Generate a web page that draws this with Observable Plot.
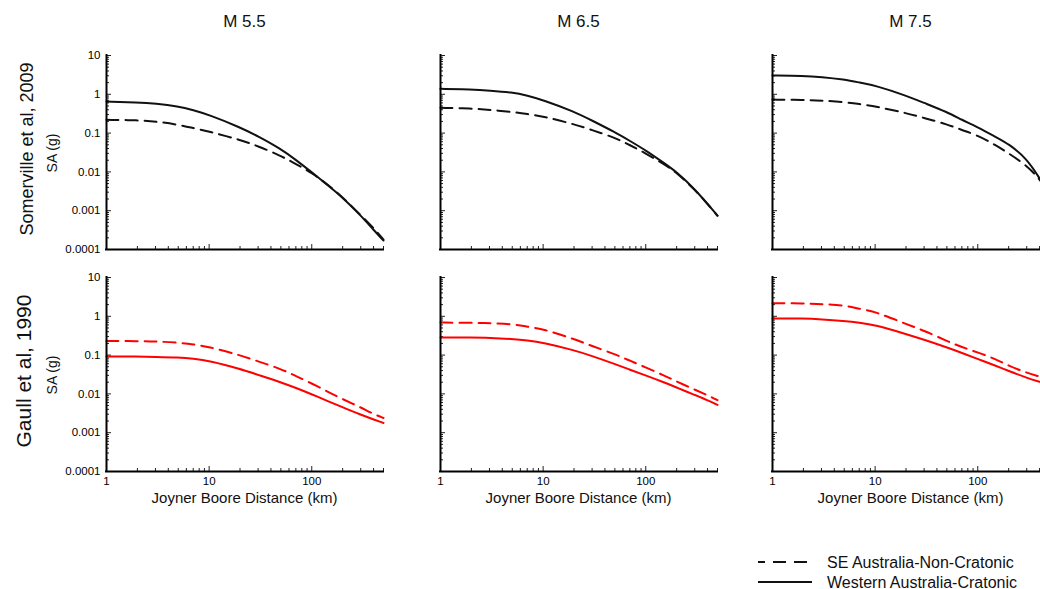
<!DOCTYPE html>
<html><head><meta charset="utf-8">
<script src="https://cdn.jsdelivr.net/npm/d3@7"></script>
<script src="https://cdn.jsdelivr.net/npm/@observablehq/plot@0.6"></script>
<style>
html,body{margin:0;padding:0;background:#fff;}
#root{position:relative;width:1040px;height:589px;overflow:hidden;font-family:"Liberation Sans",Arial,Helvetica,sans-serif;}
.panel{position:absolute;}
.panel svg{display:block;max-width:none;}
#ann{position:absolute;left:0;top:0;pointer-events:none;}
</style></head><body><div id="root"></div>
<script>
// ---- data ----
const magnitudes = ["M 5.5", "M 6.5", "M 7.5"];
const models = ["Somerville et al, 2009", "Gaull et al, 1990"];
const seriesNames = ["SE Australia-Non-Cratonic", "Western Australia-Cratonic"];
const yAxisTitle = "SA (g)";
const xAxisTitle = "Joyner Boore Distance (km)";
const xTicks = [1, 10, 100];
const xTickLabels = ["1", "10", "100"];
const yTicks = [0.0001, 0.001, 0.01, 0.1, 1, 10];
const yTickLabels = ["0.0001", "0.001", "0.01", "0.1", "1", "10"];

const distanceKm = [1, 2, 3, 5, 7, 10, 20, 30, 50, 70, 100, 150, 200, 300, 400, 500];

// Somerville et al, 2009
const somM55NonCratonic = [0.22, 0.215, 0.20, 0.165, 0.135, 0.11, 0.067, 0.046, 0.026, 0.016, 0.0095, 0.0043, 0.0022, 0.00077, 0.00036, 0.00018];
const somM55Cratonic    = [0.65, 0.62, 0.58, 0.49, 0.39, 0.295, 0.141, 0.083, 0.039, 0.0204, 0.0098, 0.0041, 0.0022, 0.00075, 0.00032, 0.00017];
const somM65NonCratonic = [0.45, 0.43, 0.40, 0.35, 0.31, 0.27, 0.17, 0.12, 0.076, 0.049, 0.030, 0.016, 0.0095, 0.0035, 0.0015, 0.00074];
const somM65Cratonic    = [1.38, 1.33, 1.25, 1.12, 0.93, 0.71, 0.36, 0.21, 0.106, 0.063, 0.036, 0.017, 0.010, 0.0036, 0.0015, 0.00075];
const somM75NonCratonic = [0.73, 0.72, 0.69, 0.63, 0.56, 0.49, 0.33, 0.245, 0.17, 0.12, 0.087, 0.049, 0.030, 0.0146, 0.0066, 0.0027];
const somM75Cratonic    = [3.05, 3.0, 2.8, 2.4, 2.02, 1.69, 0.93, 0.60, 0.35, 0.22, 0.142, 0.079, 0.053, 0.022, 0.0069, 0.0026];

// Gaull et al, 1990
const gauM55NonCratonic = [0.23, 0.23, 0.225, 0.21, 0.19, 0.163, 0.10, 0.069, 0.044, 0.029, 0.0186, 0.0107, 0.0073, 0.0045, 0.0030, 0.0024];
const gauM55Cratonic    = [0.092, 0.092, 0.09, 0.087, 0.081, 0.071, 0.044, 0.031, 0.020, 0.0143, 0.0098, 0.0062, 0.0045, 0.0029, 0.0022, 0.00178];
const gauM65NonCratonic = [0.69, 0.68, 0.67, 0.63, 0.54, 0.47, 0.26, 0.17, 0.106, 0.072, 0.048, 0.030, 0.021, 0.0128, 0.0093, 0.0069];
const gauM65Cratonic    = [0.284, 0.284, 0.28, 0.26, 0.24, 0.21, 0.134, 0.095, 0.059, 0.042, 0.030, 0.020, 0.0146, 0.0094, 0.0069, 0.0052];
const gauM75NonCratonic = [2.18, 2.15, 2.05, 1.94, 1.55, 1.33, 0.63, 0.43, 0.23, 0.16, 0.117, 0.079, 0.053, 0.035, 0.028, 0.023];
const gauM75Cratonic    = [0.88, 0.88, 0.84, 0.76, 0.69, 0.60, 0.35, 0.25, 0.158, 0.114, 0.079, 0.053, 0.039, 0.026, 0.0205, 0.017];

const panelSeries = [
  [[somM55NonCratonic, somM55Cratonic], [somM65NonCratonic, somM65Cratonic], [somM75NonCratonic, somM75Cratonic]],
  [[gauM55NonCratonic, gauM55Cratonic], [gauM65NonCratonic, gauM65Cratonic], [gauM75NonCratonic, gauM75Cratonic]]
];
const rowColors = ["#111111", "#ff0000"];

// ---- layout ----
const PW = 277, PH = 194;
const colLeft = [106, 440, 772];
const rowTop = [55, 277];
const ML = 50, MR = 2, MT = 2;
const FONT = '"Liberation Sans", Arial, Helvetica, sans-serif';

const xMinor = [];
for (const p of [1, 10, 100]) for (let k = 2; k <= 9; k++) if (k * p <= 500) xMinor.push(k * p);
const yMinor = [];
for (const p of [0.0001, 0.001, 0.01, 0.1, 1]) for (let k = 2; k <= 9; k++) yMinor.push(+(k * p).toPrecision(3));

const root = document.getElementById("root");

for (let r = 0; r < 2; r++) {
  for (let c = 0; c < 3; c++) {
    const [nc, cr] = panelSeries[r][c];
    const dashedData = distanceKm.map((d, i) => ({d, v: nc[i]}));
    const solidData = distanceKm.map((d, i) => ({d, v: cr[i]}));
    const color = rowColors[r];
    const MB = r === 1 ? 40 : 4;
    const marks = [
      Plot.tickX(xMinor, {x: d => d, insetTop: PH - 3, stroke: "#222", strokeWidth: 1}),
      Plot.tickX(xTicks, {x: d => d, insetTop: PH - 5, stroke: "#222", strokeWidth: 1}),
      Plot.tickY(yMinor, {y: d => d, insetRight: PW - 3, stroke: "#222", strokeWidth: 1}),
      Plot.tickY(yTicks, {y: d => d, insetRight: PW - 5, stroke: "#222", strokeWidth: 1}),
      Plot.line(dashedData, {x: "d", y: "v", stroke: color, strokeWidth: 2, strokeDasharray: "12,7", curve: "basis"}),
      Plot.line(solidData, {x: "d", y: "v", stroke: color, strokeWidth: 2, curve: "basis"}),
      Plot.ruleX([1], {stroke: "#000", strokeWidth: 2, strokeLinecap: "square"}),
      Plot.ruleY([0.0001], {stroke: "#000", strokeWidth: 2, strokeLinecap: "square"})
    ];
    if (r === 1) marks.push(Plot.axisX(xTicks, {tickSize: 0, tickPadding: 5, label: null,
      tickFormat: d => xTickLabels[xTicks.indexOf(d)]}));
    if (c === 0) marks.push(Plot.axisY(yTicks, {tickSize: 0, tickPadding: 6, label: null,
      tickFormat: d => yTickLabels[yTicks.indexOf(d)]}));
    const chart = Plot.plot({
      width: ML + PW + MR, height: MT + PH + MB,
      marginLeft: ML, marginRight: MR, marginTop: MT, marginBottom: MB,
      x: {type: "log", domain: [1, 500], axis: r === 1 ? undefined : null},
      y: {type: "log", domain: [0.0001, 10], axis: c === 0 ? undefined : null},
      style: {background: "transparent", fontFamily: FONT, fontSize: "11.5px", color: "#000", overflow: "visible"},
      marks
    });
    const div = document.createElement("div");
    div.className = "panel";
    div.style.left = (colLeft[c] - ML) + "px";
    div.style.top = (rowTop[r] - MT) + "px";
    div.appendChild(chart);
    root.appendChild(div);
  }
}

// ---- annotations (titles, row labels, legend) ----
const svg = d3.select(root).append("svg").attr("id", "ann").attr("width", 1040).attr("height", 589)
  .style("font-family", FONT);
const colCenter = colLeft.map(x => x + PW / 2);

magnitudes.forEach((m, i) => {
  svg.append("text").attr("x", colCenter[i]).attr("y", 27).attr("text-anchor", "middle")
    .attr("font-size", 17).attr("fill", "#111").text(m);
  svg.append("text").attr("x", colCenter[i]).attr("y", 503).attr("text-anchor", "middle")
    .attr("font-size", 15).attr("fill", "#111").text(xAxisTitle);
});

const rowLabelX = [27, 23], rowLabelSize = [18, 21];
models.forEach((m, r) => {
  const cy = rowTop[r] + PH / 2;
  svg.append("text").attr("transform", `translate(${rowLabelX[r]},${cy - 3}) rotate(-90)`)
    .attr("text-anchor", "middle").attr("dominant-baseline", "central")
    .attr("font-size", rowLabelSize[r]).attr("fill", "#111").text(m);
  svg.append("text").attr("transform", `translate(52,${cy + 1}) rotate(-90)`)
    .attr("text-anchor", "middle").attr("dominant-baseline", "central")
    .attr("font-size", 14).attr("fill", "#111").text(yAxisTitle);
});

// legend
const legendY = [562, 582];
const legendDash = ["13,8", null];
seriesNames.forEach((s, i) => {
  const ln = svg.append("line").attr("x1", 758).attr("x2", 812).attr("y1", legendY[i]).attr("y2", legendY[i])
    .attr("stroke", "#111").attr("stroke-width", 2);
  if (legendDash[i]) ln.attr("stroke-dasharray", legendDash[i]).attr("stroke-dashoffset", 6);
  svg.append("text").attr("x", 827).attr("y", legendY[i]).attr("dominant-baseline", "central")
    .attr("font-size", 16).attr("fill", "#111").text(s);
});
</script></body></html>
